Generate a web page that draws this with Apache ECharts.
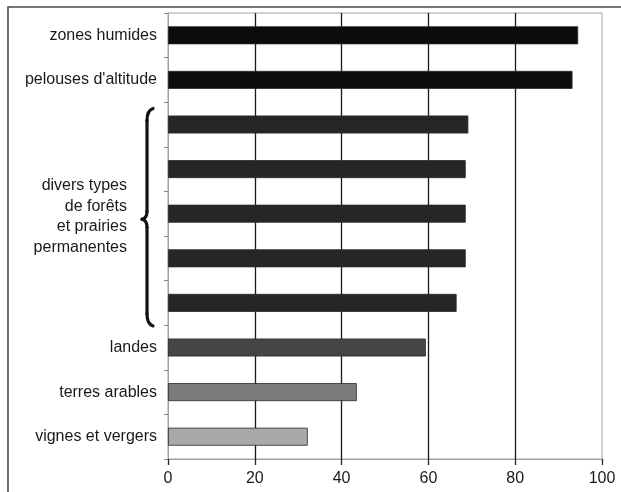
<!DOCTYPE html>
<html>
<head>
<meta charset="utf-8">
<script src="https://cdn.jsdelivr.net/npm/echarts@6/dist/echarts.min.js"></script>
<style>html,body{margin:0;padding:0;background:#fff}#c{width:621px;height:492px}</style>
</head>
<body>
<div id="c"></div>
<script>
const categories = ['zones humides', "pelouses d'altitude", 'forêts et prairies 1', 'forêts et prairies 2', 'forêts et prairies 3', 'forêts et prairies 4', 'forêts et prairies 5', 'landes', 'terres arables', 'vignes et vergers'];
const values = [94.5, 93.2, 69.2, 68.6, 68.6, 68.6, 66.5, 59.4, 43.5, 32.2];
const groupLabel = ['divers types', 'de forêts', 'et prairies', 'permanentes'];
const groupFirst = 2, groupLast = 6;
const xMin = 0, xMax = 100, xStep = 20;
const barColors = ['#0b0b0b', '#0b0b0b', '#262626', '#262626', '#262626', '#262626', '#262626', '#454545', '#7b7b7b', '#a9a9a9'];
const FONT = 'Liberation Sans, Arial, sans-serif';

const chart = echarts.init(document.getElementById('c'), null, {renderer: 'canvas'});
chart.setOption({
  animation: false,
  backgroundColor: '#fff',
  grid: {left: 168, right: 19, top: 13, bottom: 33, show: true, borderColor: '#a0a0a0', borderWidth: 1},
  xAxis: {
    type: 'value', min: xMin, max: xMax, interval: xStep,
    axisLine: {show: true, lineStyle: {color: '#a0a0a0', width: 1}},
    axisTick: {show: true, length: 6, lineStyle: {color: '#222', width: 1.3}},
    splitLine: {show: true, showMinLine: false, showMaxLine: false, lineStyle: {color: '#1a1a1a', width: 1.3}},
    axisLabel: {color: '#1a1a1a', fontSize: 16, fontFamily: FONT, margin: 12}
  },
  yAxis: {
    type: 'category', data: categories, inverse: true,
    axisLine: {show: true, lineStyle: {color: '#a0a0a0', width: 1}},
    axisTick: {show: true, length: 4, lineStyle: {color: '#888'}},
    axisLabel: {
      color: '#1a1a1a', fontSize: 16, fontFamily: FONT, margin: 11,
      formatter: (v, i) => (i >= groupFirst && i <= groupLast) ? '' : v
    }
  },
  series: [{
    type: 'bar', data: values, barWidth: 18,
    itemStyle: {color: p => barColors[p.dataIndex], borderColor: '#2a2a2a', borderWidth: 0.8}
  }]
});

// brace and group label placed from the axis scales
const pTop = chart.convertToPixel({gridIndex: 0}, [0, groupFirst]);
const pBot = chart.convertToPixel({gridIndex: 0}, [0, groupLast]);
const pMid = chart.convertToPixel({gridIndex: 0}, [0, Math.round((groupFirst + groupLast) / 2)]);
const yT = pTop[1] - 16, yB = pBot[1] + 23, ym = (yT + yB) / 2 + 2;
const xs = pTop[0] - 21; // main stroke x
const braceStyle = {stroke: '#111', lineWidth: 3.2, lineCap: 'round', fill: null};
const seg = (x1, y1, cx, cy, x2, y2) => ({type: 'bezierCurve', silent: true, shape: {x1, y1, cpx1: cx, cpy1: cy, x2, y2}, style: braceStyle});
const ln = (x1, y1, x2, y2) => ({type: 'line', silent: true, shape: {x1, y1, x2, y2}, style: braceStyle});
chart.setOption({
  graphic: [
    {type: 'rect', silent: true, shape: {x: 8, y: 7, width: 700, height: 600}, style: {fill: null, stroke: '#4a4a4a', lineWidth: 1.6}},
    seg(xs + 6, yT, xs, yT + 2, xs, yT + 12),
    ln(xs, yT + 12, xs, ym - 8),
    seg(xs, ym - 8, xs, ym - 1, xs - 5, ym),
    seg(xs - 5, ym, xs, ym + 1, xs, ym + 8),
    ln(xs, ym + 8, xs, yB - 12),
    seg(xs, yB - 12, xs, yB - 2, xs + 6, yB),
    {type: 'text', silent: true, x: xs - 20, y: pMid[1] + 3, style: {text: groupLabel.join('\n'), align: 'right', verticalAlign: 'middle', lineHeight: 20.5, font: '16px ' + FONT, fill: '#1a1a1a'}}
  ]
});
</script>
</body>
</html>
